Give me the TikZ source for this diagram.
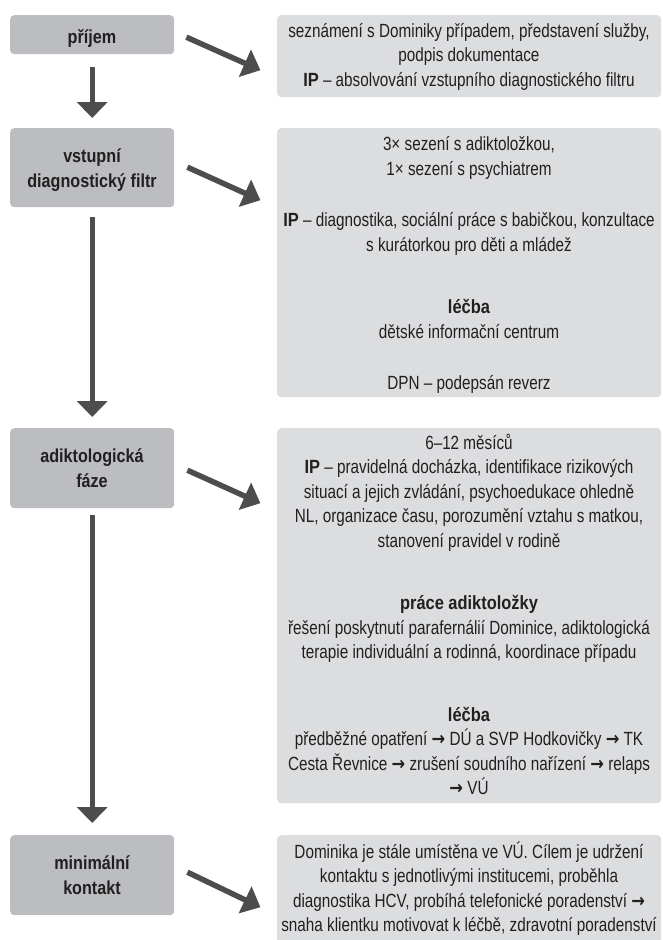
\documentclass[tikz,border=0pt]{standalone}
\usepackage{fontspec}
\setmainfont{Liberation Sans}[FakeStretch=0.8, BoldFeatures={FakeStretch=0.86}]
\newfontfamily\arrowfont{DejaVu Sans}[FakeStretch=0.85]
\usetikzlibrary{arrows.meta,calc}
\definecolor{lbox}{HTML}{BCBDC0}
\definecolor{rbox}{HTML}{DCDDDF}
\definecolor{arrc}{HTML}{4D4D4F}
\definecolor{txt}{HTML}{231F20}
\newcommand\firstln{\rule{0pt}{18pt}}
\newcommand\rarr{{\arrowfont\bfseries →}}
\begin{document}
\begin{tikzpicture}[x=1pt,y=-1pt,
  lboxst/.style={fill=lbox, rounded corners=4pt, minimum width=164pt, inner sep=0pt, anchor=north west},
  rboxst/.style={fill=rbox, rounded corners=4pt, minimum width=384pt, inner sep=0pt, anchor=north west},
  ltext/.style={font=\fontsize{18.8}{24.6}\selectfont\bfseries, text=txt, align=center, inner sep=0pt, anchor=north},
  rtext/.style={font=\fontsize{19.1}{24.5}\selectfont, text=txt, align=center, inner sep=0pt, anchor=north},
  varr/.style={draw=arrc, line width=5pt, -{Triangle[length=16pt,width=30pt]}},
  darr/.style={draw=arrc, line width=5.5pt, -{Triangle[length=17pt,width=29pt]}},
]
\useasboundingbox (0,0) rectangle (663,940);

% left boxes
\node[lboxst, minimum height=39pt] (b1) at (10,15) {};
\node[lboxst, minimum height=79pt] (b2) at (10,128) {};
\node[lboxst, minimum height=80pt] (b3) at (10,428) {};
\node[lboxst, minimum height=80pt] (b4) at (10,835) {};

% right boxes
\node[rboxst, minimum height=82pt] (r1) at (277,15) {};
\node[rboxst, minimum height=269pt] (r2) at (277,128) {};
\node[rboxst, minimum height=375pt] (r3) at (277,428) {};
\node[rboxst, minimum height=125pt] (r4) at (277,835) {};

% left labels
\node[ltext] (lb1) at (92,25) {\firstln příjem};
\node[ltext] (lb2) at (92,144.2) {\firstln vstupní\\ diagnostický filtr};
\node[ltext] (lb3) at (92,444.7) {\firstln adiktologická\\ fáze};
\node[ltext] (lb4) at (92,851.7) {\firstln minimální\\ kontakt};

% right texts
\node[rtext] (tr1) at (469,19) {\firstln seznámení s Dominiky případem, představení služby,\\ podpis dokumentace\\ \textbf{IP} – absolvování vzstupního diagnostického filtru};
\node[rtext] (tr2) at (469,132.5) {\firstln 3× sezení s adiktoložkou,\\ 1× sezení s psychiatrem\\[27pt] \textbf{IP} – diagnostika, sociální práce s babičkou, konzultace\\ s kurátorkou pro děti a mládež\\[38pt] \textbf{léčba}\\ dětské informační centrum\\[27pt] DPN – podepsán reverz};
\node[rtext] (tr3) at (469,431) {\firstln 6–12 měsíců\\ \textbf{IP} – pravidelná docházka, identifikace rizikových\\ situací a jejich zvládání, psychoedukace ohledně\\ NL, organizace času, porozumění vztahu s matkou,\\ stanovení pravidel v rodině\\[38pt] \textbf{práce adiktoložky}\\ řešení poskytnutí parafernálií Dominice, adiktologická\\ terapie individuální a rodinná, koordinace případu\\[38pt] \textbf{léčba}\\ předběžné opatření \rarr{} DÚ a SVP Hodkovičky \rarr{} TK\\ Cesta Řevnice \rarr{} zrušení soudního nařízení \rarr{} relaps\\ \rarr{} VÚ};
\node[rtext] (tr4) at (469,840) {\firstln Dominika je stále umístěna ve VÚ. Cílem je udržení\\ kontaktu s jednotlivými institucemi, proběhla\\ diagnostika HCV, probíhá telefonické poradenství \rarr\\ snaha klientku motivovat k léčbě, zdravotní poradenství};

% vertical arrows
\draw[varr] ($(b1.south)+(0,13)$) -- ($(b2.north)+(0,-10)$);
\draw[varr] ($(b2.south)+(0,10)$) -- ($(b3.north)+(0,-11)$);
\draw[varr] ($(b3.south)+(0,7)$) -- ($(b4.north)+(0,-12)$);

% diagonal arrows
\draw[darr] ($(b1.east)+(12,2.5)$) -- ($(b1.east)+(86,35.5)$);
\draw[darr] ($(b2.east)+(13,-0.5)$) -- ($(b2.east)+(86,32.5)$);
\draw[darr] ($(b3.east)+(13,2)$) -- ($(b3.east)+(86,35)$);
\draw[darr] ($(b4.east)+(13,-3)$) -- ($(b4.east)+(86,32)$);
\end{tikzpicture}
\end{document}
